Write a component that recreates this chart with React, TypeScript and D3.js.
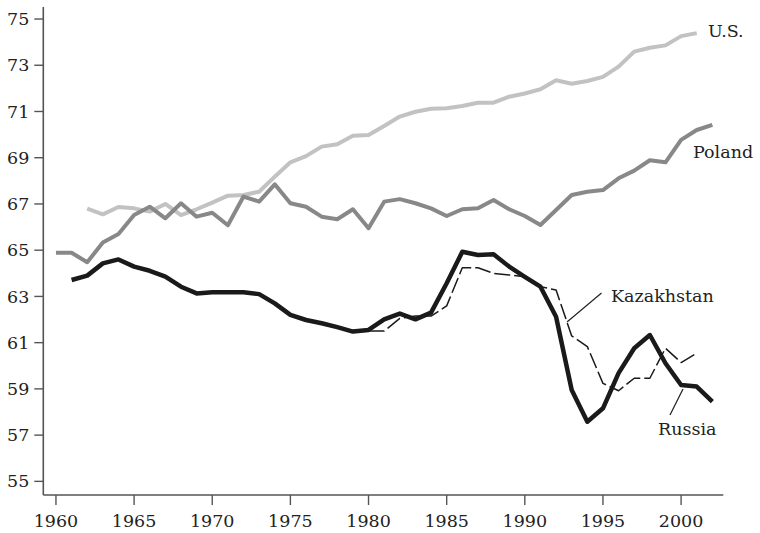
import * as d3 from "d3";

// life expectancy at birth, years
const usYears = d3.range(1962, 2002);
const usValues = [
  66.8, 66.55, 66.87, 66.81, 66.67, 67.0, 66.52, 66.77, 67.06, 67.36,
  67.39, 67.53, 68.18, 68.8, 69.07, 69.48, 69.58, 69.95, 69.98, 70.37,
  70.78, 70.99, 71.12, 71.14, 71.24, 71.38, 71.38, 71.64, 71.78, 71.96,
  72.35, 72.2, 72.32, 72.5, 72.94, 73.59, 73.76, 73.86, 74.26, 74.39,
];

const polandYears = d3.range(1960, 2003);
const polandValues = [
  64.89, 64.89, 64.48, 65.33, 65.7, 66.52, 66.88, 66.38, 67.03, 66.45,
  66.62, 66.08, 67.32, 67.1, 67.85, 67.03, 66.88, 66.45, 66.34, 66.77,
  65.95, 67.1, 67.21, 67.03, 66.81, 66.48, 66.77, 66.81, 67.17, 66.77,
  66.48, 66.09, 66.74, 67.39, 67.53, 67.6, 68.11, 68.44, 68.89, 68.8,
  69.77, 70.2, 70.42,
];

const russiaYears = d3.range(1961, 2003);
const russiaValues = [
  63.71, 63.9, 64.43, 64.6, 64.29, 64.11, 63.86, 63.42, 63.13, 63.18,
  63.18, 63.18, 63.1, 62.7, 62.2, 61.98, 61.84, 61.67, 61.48, 61.55,
  62.01, 62.26, 62.01, 62.3, 63.57, 64.93, 64.79, 64.82, 64.29, 63.85,
  63.42, 62.12, 58.95, 57.58, 58.16, 59.68, 60.76, 61.33, 60.11, 59.17,
  59.1, 58.45,
];

const kazakhYears = d3.range(1980, 2002);
const kazakhValues = [
  61.5, 61.5, 62.05, 62.15, 62.15, 62.59, 64.24, 64.24, 64.0, 63.93,
  63.85, 63.42, 63.28, 61.29, 60.83, 59.24, 58.92, 59.46, 59.46, 60.76,
  60.14, 60.54,
];

const xTicks = d3.range(1960, 2001, 5);
const yTicks = d3.range(55, 76, 2);

const W = 760;
const H = 533;
const font = "DejaVu Serif";

type Pt = [number, number];
const zip = (xs: number[], vs: number[]): Pt[] => xs.map((x, i) => [x, vs[i]]);

export default function App() {
  const x = d3.scaleLinear().domain([1959.19, 2002.7]).range([43.3, 723.3]);
  const y = d3.scaleLinear().domain([54.41, 75.52]).range([495, 7]);
  const line = d3.line<Pt>().x(d => x(d[0])).y(d => y(d[1]));

  const series = [
    { pts: zip(usYears, usValues), color: "#c2c2c2", width: 4, dash: undefined },
    { pts: zip(polandYears, polandValues), color: "#888888", width: 4, dash: undefined },
    { pts: zip(kazakhYears, kazakhValues), color: "#1a1a1a", width: 1.5, dash: "16,4" },
    { pts: zip(russiaYears, russiaValues), color: "#1a1a1a", width: 4.5, dash: undefined },
  ];

  const axisColor = "#555";
  const x0 = x.range()[0];
  const y0 = y.range()[0];

  return (
    <svg width={W} height={H} style={{ position: "fixed", left: 0, top: 0, background: "#fff" }}>
      {/* axes */}
      <line x1={x0} x2={x0} y1={y.range()[1]} y2={y0} stroke={axisColor} strokeWidth={1.6} />
      <line x1={x0} x2={x.range()[1]} y1={y0} y2={y0} stroke={axisColor} strokeWidth={1.6} />
      {yTicks.map(t => (
        <g key={"y" + t}>
          <line x1={x0 - 9} x2={x0} y1={y(t)} y2={y(t)} stroke={axisColor} strokeWidth={1.4} />
          <text x={x0 - 14} y={y(t)} dy="0.35em" textAnchor="end" fontFamily={font} fontSize={17.5} fill="#222">
            {t}
          </text>
        </g>
      ))}
      {xTicks.map(t => (
        <g key={"x" + t}>
          <line x1={x(t)} x2={x(t)} y1={y0} y2={y0 + 10} stroke={axisColor} strokeWidth={1.4} />
          <text x={x(t)} y={527} textAnchor="middle" fontFamily={font} fontSize={17.5} fill="#222">
            {t}
          </text>
        </g>
      ))}

      {/* series */}
      {series.map((s, i) => (
        <path
          key={i}
          d={line(s.pts) || ""}
          fill="none"
          stroke={s.color}
          strokeWidth={s.width}
          strokeDasharray={s.dash}
          strokeLinejoin="round"
        />
      ))}

      {/* labels */}
      <text x={708} y={37} fontFamily={font} fontSize={17.5} fill="#222">U.S.</text>
      <text x={693} y={158} fontFamily={font} fontSize={17.5} fill="#222">Poland</text>
      <text x={611} y={302} fontFamily={font} fontSize={17.5} fill="#222">Kazakhstan</text>
      <line x1={601.5} y1={293} x2={567} y2={322} stroke="#222" strokeWidth={1.2} />
      <text x={658} y={435} fontFamily={font} fontSize={17.5} fill="#222">Russia</text>
      <line x1={683} y1={389} x2={670} y2={415} stroke="#222" strokeWidth={1.2} />
    </svg>
  );
}
